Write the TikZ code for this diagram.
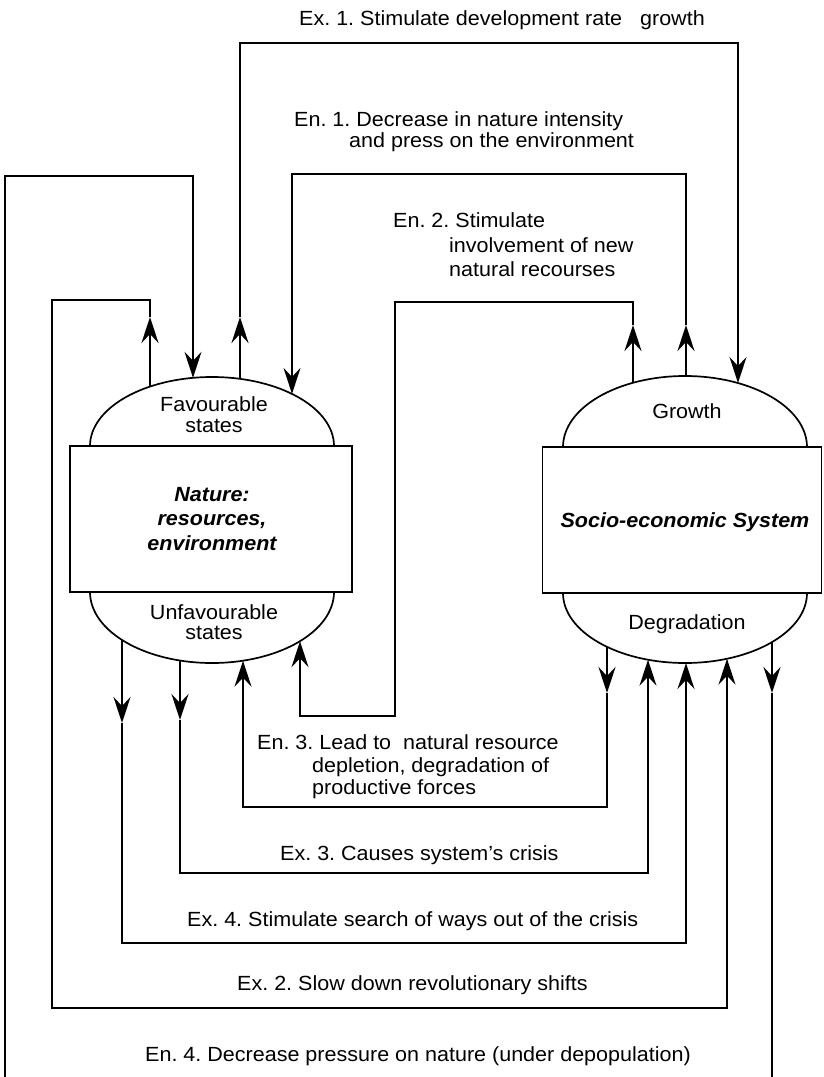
\documentclass[tikz,border=0pt]{standalone}
\usepackage{fontspec}
\setmainfont{Liberation Sans}[FakeStretch=1.05]
\usetikzlibrary{arrows.meta}
\frenchspacing
\begin{document}
\begin{tikzpicture}[x=1pt,y=-1pt,
  conn/.style={line width=1.8pt},
  stub/.style={line width=2.8pt},
  shapeline/.style={line width=1.7pt},
  arr/.style={-{Stealth[length=26pt,width=17pt,inset=9pt]}},
  lbl/.style={anchor=base west, inner sep=0pt, font=\fontsize{20.5}{24}\selectfont\frenchspacing},
  stext/.style={anchor=base, inner sep=0pt, font=\fontsize{20.5}{24}\selectfont\frenchspacing},
  btext/.style={anchor=base, inner sep=0pt, font=\fontsize{20.5}{24}\selectfont\bfseries\itshape}]
\useasboundingbox (0,0) rectangle (823,1077);
\clip (0,0) rectangle (823,1077);

% bodies
\node[draw, shapeline, minimum width=282pt, minimum height=146pt, inner sep=0pt] (nature) at (211,519) {};
\node[draw, shapeline, minimum width=279pt, minimum height=146pt, inner sep=0pt] (socio) at (682,520) {};

% domes
\draw[shapeline] (90,446) .. controls (90,407.9) and (144.6,377) .. (212,377) .. controls (279.4,377) and (334,407.9) .. (334,446);
\draw[shapeline] (90,592) .. controls (90,631.2) and (144.6,663) .. (212,663) .. controls (279.4,663) and (334,631.2) .. (334,592);
\draw[shapeline] (563,447) .. controls (563,407.8) and (617.6,376) .. (685,376) .. controls (752.4,376) and (807,407.8) .. (807,447);
\draw[shapeline] (563,593) .. controls (563,631.7) and (617.6,663) .. (685,663) .. controls (752.4,663) and (807,631.7) .. (807,593);

% body texts
\node[stext] (fav1) at (214,411) {Favourable};
\node[stext] (fav2) at (214,432) {states};
\node[stext] (unf1) at (214,619) {Unfavourable};
\node[stext] (unf2) at (214,639) {states};
\node[btext] (nat1) at (212,501) {Nature:};
\node[btext] (nat2) at (212,525) {resources,};
\node[btext] (nat3) at (212,550) {environment};
\node[stext] (grow) at (687,418) {Growth};
\node[stext] (degr) at (687,629) {Degradation};
\node[btext] (soc) at (685,527) {Socio-economic System};

% attachment points
\coordinate (fT1) at (150,386.6);
\coordinate (fT2) at (193,377.8);
\coordinate (fT3) at (240,378.9);
\coordinate (fT4) at (292,393.9);
\coordinate (uB1) at (122,640);
\coordinate (uB2) at (180,660.5);
\coordinate (uB3) at (243,660.7);
\coordinate (uB4) at (300,641.2);
\coordinate (gT1) at (633,382.8);
\coordinate (gT2) at (686,376);
\coordinate (gT3) at (738,383);
\coordinate (dB1) at (607,646.8);
\coordinate (dB2) at (648,659.7);
\coordinate (dB3) at (686,663);
\coordinate (dB4) at (727,658.7);
\coordinate (dB5) at (772,642);
% mid-line arrow tips
\coordinate (ex2m) at (150,317);
\coordinate (ex1m) at (240,317);
\coordinate (en2m) at (633,325);
\coordinate (en1m) at (686,325);
\coordinate (ex4m) at (122,723);
\coordinate (ex3m) at (180,720);
\coordinate (en3m) at (607,693);
\coordinate (en4m) at (772,693);

% Ex. 1
\draw[stub,arr] (fT3) -- (ex1m);
\draw[conn,arr] (ex1m) -- (240,43) -- (738,43) -- (gT3);
% En. 1
\draw[stub,arr] (gT2) -- (en1m);
\draw[conn,arr] (en1m) -- (686,174) -- (292,174) -- (fT4);
% En. 2
\draw[stub,arr] (gT1) -- (en2m);
\draw[conn,arr] (en2m) -- (633,302) -- (395,302) -- (395,716) -- (300,716) -- (uB4);
% Ex. 2
\draw[stub,arr] (fT1) -- (ex2m);
\draw[conn,arr] (ex2m) -- (150,300) -- (52,300) -- (52,1008) -- (727,1008) -- (dB4);
% En. 3
\draw[stub,arr] (dB1) -- (en3m);
\draw[conn,arr] (en3m) -- (607,807) -- (243,807) -- (uB3);
% Ex. 3
\draw[stub,arr] (uB2) -- (ex3m);
\draw[conn,arr] (ex3m) -- (180,873) -- (648,873) -- (dB2);
% Ex. 4
\draw[stub,arr] (uB1) -- (ex4m);
\draw[conn,arr] (ex4m) -- (122,943) -- (686,943) -- (dB3);
% En. 4
\draw[stub,arr] (dB5) -- (en4m);
\draw[conn,arr] (en4m) -- (772,1110) -- (5,1110) -- (5,176) -- (193,176) -- (fT2);

% labels
\node[lbl] (ex1) at (299,25) {Ex. 1. Stimulate development rate\ \ \ growth};
\node[lbl] (en1a) at (294,126) {En. 1. Decrease in nature intensity};
\node[lbl] (en1b) at (349,147.5) {and press on the environment};
\node[lbl] (en2a) at (393,227) {En. 2. Stimulate};
\node[lbl] (en2b) at (449,252) {involvement of new};
\node[lbl] (en2c) at (449,276) {natural recourses};
\node[lbl] (en3a) at (257,749) {En. 3. Lead to\ \ natural resource};
\node[lbl] (en3b) at (312,772) {depletion, degradation of};
\node[lbl] (en3c) at (312,794) {productive forces};
\node[lbl] (ex3) at (280,860) {Ex. 3. Causes system’s crisis};
\node[lbl] (ex4) at (187,926) {Ex. 4. Stimulate search of ways out of the crisis};
\node[lbl] (ex2) at (237,990) {Ex. 2. Slow down revolutionary shifts};
\node[lbl] (en4) at (145,1061) {En. 4. Decrease pressure on nature (under depopulation)};
\end{tikzpicture}
\end{document}
